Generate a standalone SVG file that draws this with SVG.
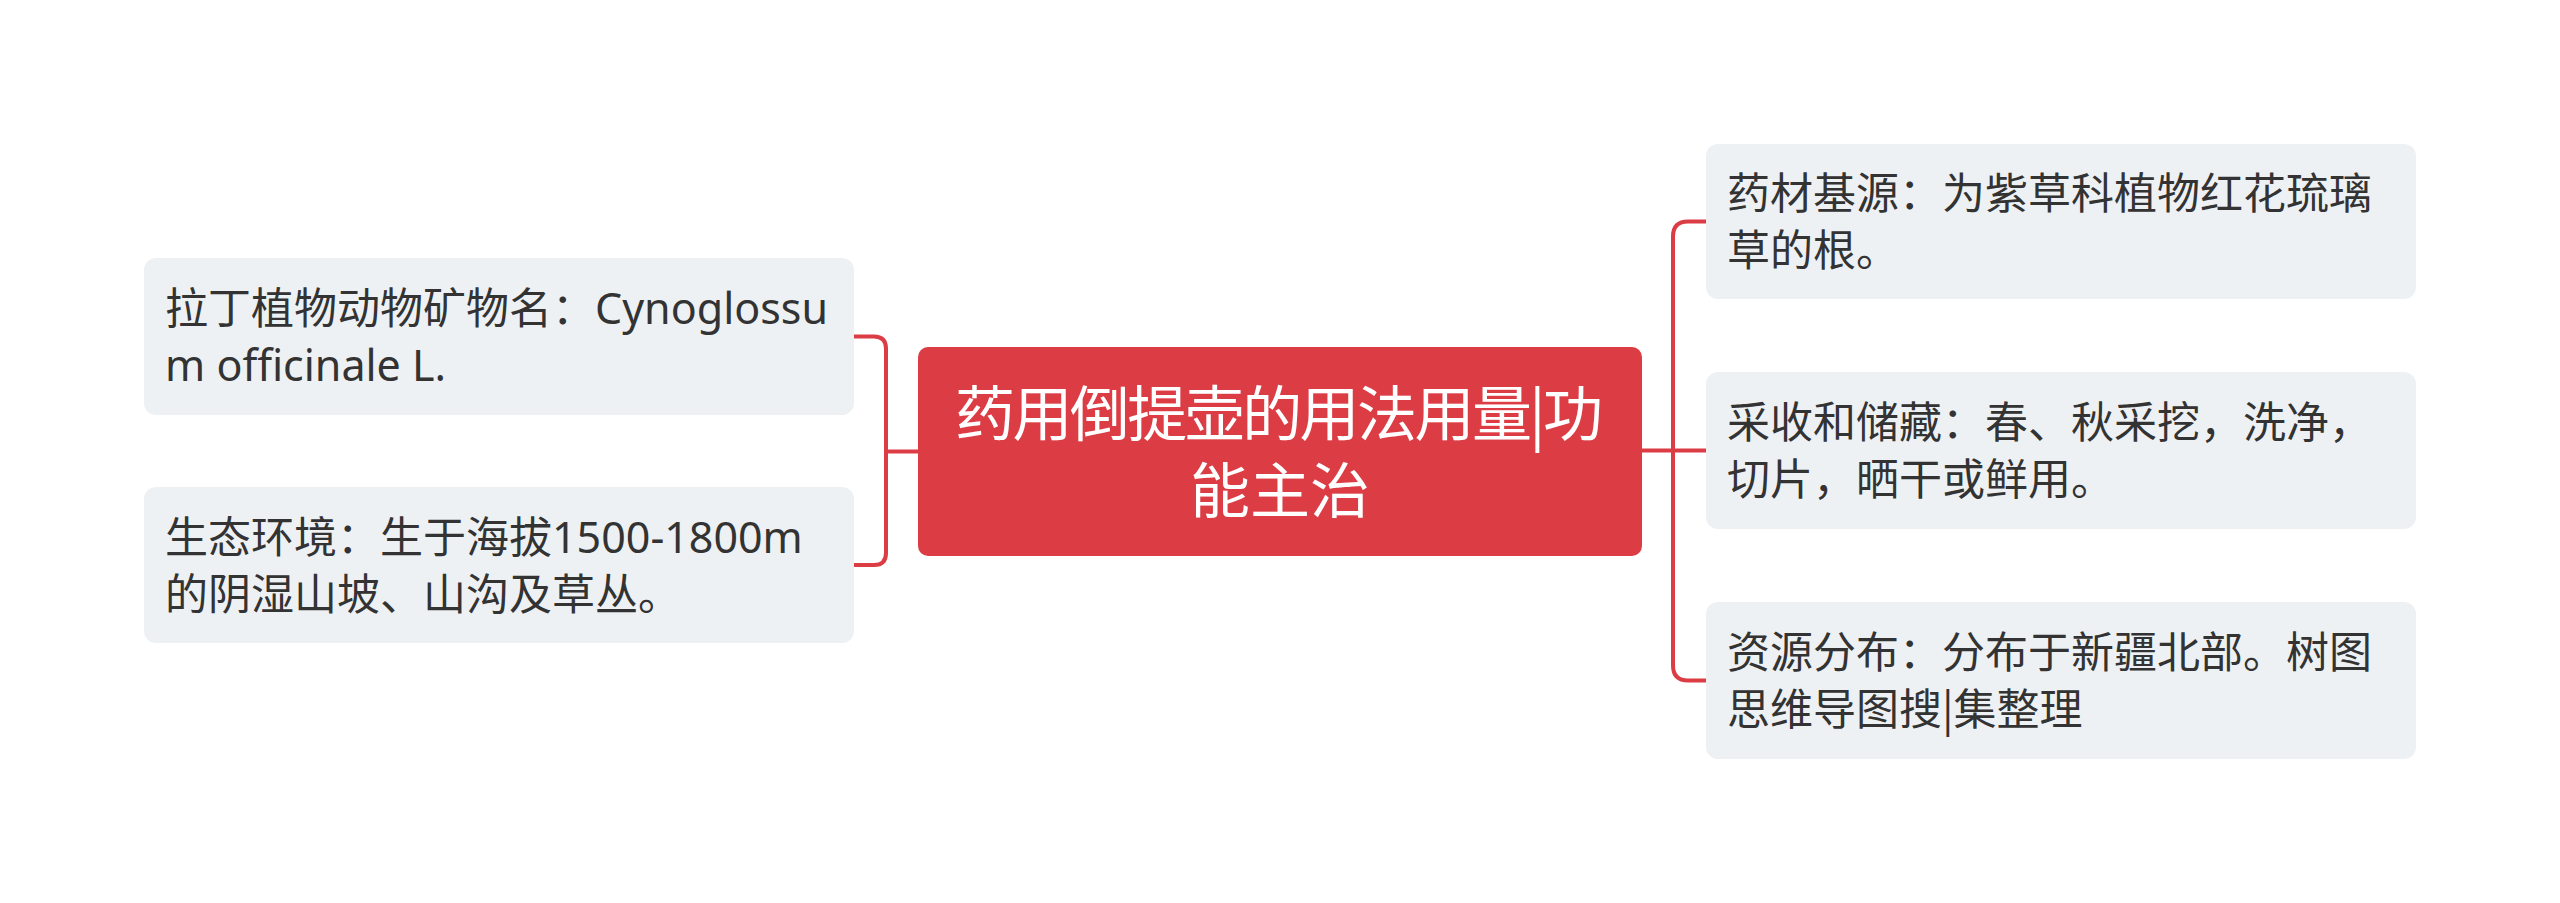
<svg xmlns="http://www.w3.org/2000/svg" width="2560" height="903" viewBox="0 0 2560 903">
  <style>
    .bg { fill: #ffffff; }
    .root-box { fill: #DC3D45; }
    .leaf-box { fill: #EEF1F4; }
    .root-text { font-family: "Noto Sans CJK SC", "Noto Sans", sans-serif; font-size: 60px; fill: #ffffff; text-anchor: middle; }
    .leaf-text { font-family: "Noto Sans", "Noto Sans CJK SC", sans-serif; font-size: 43px; fill: #333333; }
    .cjk { font-family: "Noto Sans CJK SC", sans-serif; }
    .link { fill: none; stroke: #DC3D45; stroke-width: 4; stroke-linecap: butt; }
  </style>
  <rect class="bg" x="0" y="0" width="2560" height="903"/>

  <g id="connectors">
    <path class="link" d="M918 451.5 H886"/>
    <path class="link" d="M854 336.5 H874 Q886 336.5 886 348.5 V553 Q886 565 874 565 H854"/>
    <path class="link" d="M1642 450.5 H1706"/>
    <path class="link" d="M1706 221.5 H1688 Q1673 221.5 1673 236.5 V665.5 Q1673 680.5 1688 680.5 H1706"/>
  </g>

  <g id="root">
    <rect class="root-box" x="918" y="347" width="724" height="209" rx="10" ry="10"/>
    <text class="root-text" x="1279" y="436" textLength="648" lengthAdjust="spacing">药用倒提壶的用法用量|功</text>
    <text class="root-text" x="1280" y="513">能主治</text>
  </g>

  <g id="left1">
    <rect class="leaf-box" x="144" y="258" width="710" height="157" rx="12" ry="12"/>
    <text class="leaf-text" x="165" y="324">拉丁植物动物矿物名：Cynoglossu</text>
    <text class="leaf-text" x="165" y="381">m officinale L.</text>
  </g>

  <g id="left2">
    <rect class="leaf-box" x="144" y="487" width="710" height="156" rx="12" ry="12"/>
    <text class="leaf-text" x="165" y="553">生态环境：生于海拔1500-1800m</text>
    <text class="leaf-text" x="165" y="610">的阴湿山坡、山沟及草丛。</text>
  </g>

  <g id="right1">
    <rect class="leaf-box" x="1706" y="144" width="710" height="155" rx="12" ry="12"/>
    <text class="leaf-text" x="1727" y="209">药材基源：为紫草科植物红花琉璃</text>
    <text class="leaf-text" x="1727" y="266">草的根。</text>
  </g>

  <g id="right2">
    <rect class="leaf-box" x="1706" y="372" width="710" height="157" rx="12" ry="12"/>
    <text class="leaf-text" x="1727" y="438">采收和储藏：春、秋采挖，洗净，</text>
    <text class="leaf-text" x="1727" y="495">切片，晒干或鲜用。</text>
  </g>

  <g id="right3">
    <rect class="leaf-box" x="1706" y="602" width="710" height="157" rx="12" ry="12"/>
    <text class="leaf-text" x="1727" y="668">资源分布：分布于新疆北部。树图</text>
    <text class="leaf-text cjk" x="1727" y="725">思维导图搜|集整理</text>
  </g>
</svg>
